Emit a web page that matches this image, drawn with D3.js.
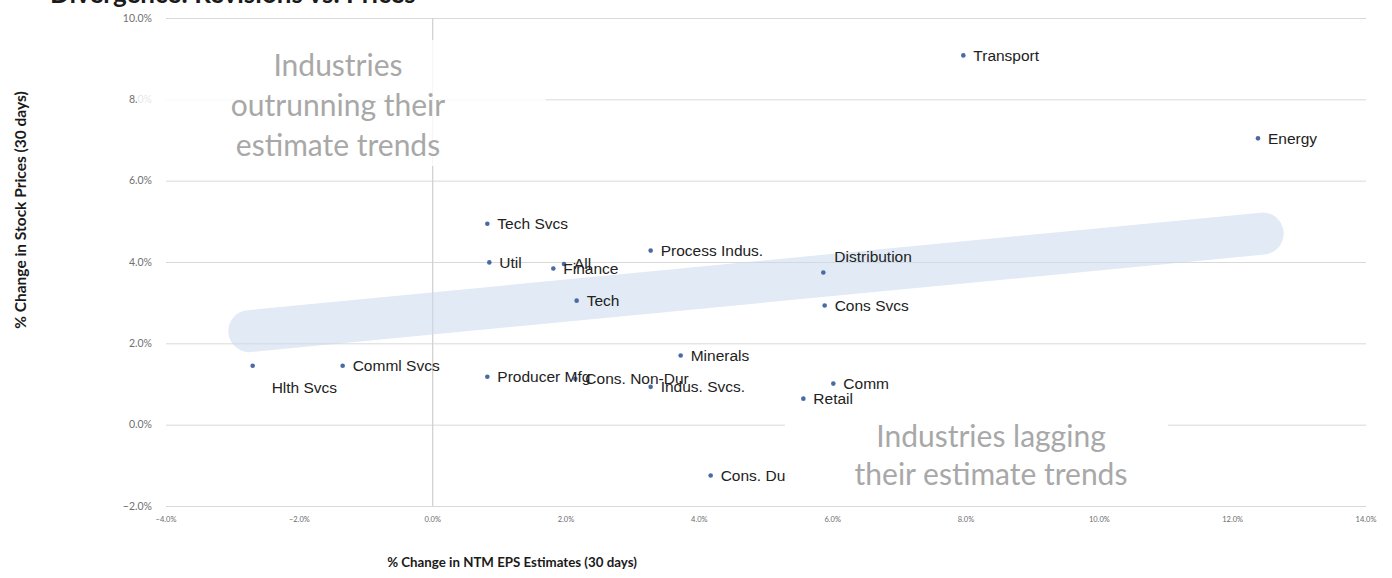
<!DOCTYPE html>
<html><head><meta charset="utf-8">
<script src="https://cdn.jsdelivr.net/npm/d3@7"></script>
<style>body{margin:0;background:#fff;} svg{display:block;}</style>
</head><body>
<svg id="chart" width="1392" height="578"></svg>
<script>
const industries = ["Transport","Energy","Tech Svcs","Util","All","Finance","Tech","Process Indus.","Distribution","Cons Svcs","Minerals","Hlth Svcs","Comml Svcs","Producer Mfg","Cons. Non-Dur","Indus. Svcs.","Comm","Retail","Cons. Dur"];
const epsChange = [7.96,12.38,0.82,0.85,1.97,1.81,2.16,3.27,5.86,5.88,3.72,-2.70,-1.35,0.82,2.14,3.27,6.01,5.56,4.17];
const priceChange = [9.08,7.04,4.94,3.99,3.95,3.84,3.05,4.28,3.74,2.93,1.70,1.45,1.45,1.18,1.13,0.93,1.01,0.64,-1.25];
const xTicks = [-4,-2,0,2,4,6,8,10,12,14];
const yTicks = [-2,0,2,4,6,8,10];
const trendBand = [[-2.75,2.3],[12.45,4.7]];

const svg = d3.select("#chart");
const x = d3.scaleLinear().domain([-4,14]).range([166,1366]);
const y = d3.scaleLinear().domain([-2,10]).range([506,18]);

// title (cut off at top)
svg.append("text").attr("x",50).attr("y",3).attr("font-family","Lato, 'Open Sans', sans-serif")
  .attr("font-weight","bold").attr("font-size",26).attr("fill","#1a1a1a").text("Divergence: Revisions vs. Prices");

// gridlines
const grid = svg.append("g").attr("transform","translate(166,0)")
  .call(d3.axisLeft(y).tickValues(yTicks).tickSize(-(1366-166)).tickFormat(""));
grid.select(".domain").remove();
grid.selectAll("line").attr("stroke","#d9d9d9").attr("stroke-width",1);

// y tick labels
svg.append("g").selectAll("text").data(yTicks).join("text")
  .attr("x",152).attr("y",d=>y(d)).attr("dy","0.35em").attr("text-anchor","end")
  .attr("font-family","Lato, sans-serif").attr("font-size",10.5).attr("fill","#707070")
  .text(d=>d3.format(".1f")(d)+"%");

// vertical zero line & x tick labels
svg.append("line").attr("x1",x(0)).attr("x2",x(0)).attr("y1",y(10)).attr("y2",y(-2))
  .attr("stroke","#cfcfcf").attr("stroke-width",1.2);
svg.append("g").selectAll("text").data(xTicks).join("text")
  .attr("x",d=>x(d)).attr("y",522).attr("text-anchor","middle")
  .attr("font-family","Lato, sans-serif").attr("font-size",7.5).attr("fill","#6b6b6b")
  .text(d=>d3.format(".1f")(d)+"%");

// trend band
svg.append("line")
  .attr("x1",x(trendBand[0][0])).attr("y1",y(trendBand[0][1]))
  .attr("x2",x(trendBand[1][0])).attr("y2",y(trendBand[1][1]))
  .attr("stroke","#c8d9ec").attr("stroke-opacity",0.55).attr("stroke-width",42).attr("stroke-linecap","round");

// points
const data = industries.map((n,i)=>({name:n,x:epsChange[i],y:priceChange[i]}));
svg.append("g").selectAll("circle").data(data).join("circle")
  .attr("cx",d=>x(d.x)).attr("cy",d=>y(d.y)).attr("r",2.3).attr("fill","#4a6aa5");

// labels
const offsets = {"Hlth Svcs":[19,22],"Distribution":[11,-16]};
svg.append("g").selectAll("text").data(data).join("text")
  .attr("x",d=>x(d.x)+(offsets[d.name]?offsets[d.name][0]:10))
  .attr("y",d=>y(d.y)+(offsets[d.name]?offsets[d.name][1]:0))
  .attr("dy","0.35em")
  .attr("font-family","'Liberation Sans', Arial, sans-serif").attr("font-size",15.5).attr("fill","#222")
  .text(d=>d.name);

// annotation boxes
svg.append("rect").attr("x",137).attr("y",40).attr("width",409).attr("height",126)
  .attr("fill","#fff").attr("fill-opacity",0.82);
svg.append("rect").attr("x",785).attr("y",406).attr("width",383).attr("height",94)
  .attr("fill","#fff").attr("fill-opacity",0.97);

const ann1 = ["Industries","outrunning their","estimate trends"];
svg.append("g").selectAll("text").data(ann1).join("text")
  .attr("x",338).attr("y",(d,i)=>65+i*40).attr("dy","0.35em").attr("text-anchor","middle")
  .attr("font-family","Lato, 'Open Sans', sans-serif").attr("font-size",30).attr("fill","#a8a8a8").text(d=>d);
const ann2 = ["Industries lagging","their estimate trends"];
svg.append("g").selectAll("text").data(ann2).join("text")
  .attr("x",991).attr("y",(d,i)=>436+i*38).attr("dy","0.35em").attr("text-anchor","middle")
  .attr("font-family","Lato, 'Open Sans', sans-serif").attr("font-size",30).attr("fill","#a8a8a8").text(d=>d);

// axis titles
svg.append("text").attr("x",512).attr("y",567).attr("text-anchor","middle")
  .attr("font-family","Lato, sans-serif").attr("font-weight","bold").attr("font-size",13.3).attr("fill","#1a1a1a")
  .text("% Change in NTM EPS Estimates (30 days)");
svg.append("text").attr("transform","translate(26,210) rotate(-90)").attr("text-anchor","middle")
  .attr("font-family","Lato, sans-serif").attr("font-weight","bold").attr("font-size",15.5).attr("fill","#1a1a1a")
  .text("% Change in Stock Prices (30 days)");
</script>
</body></html>
